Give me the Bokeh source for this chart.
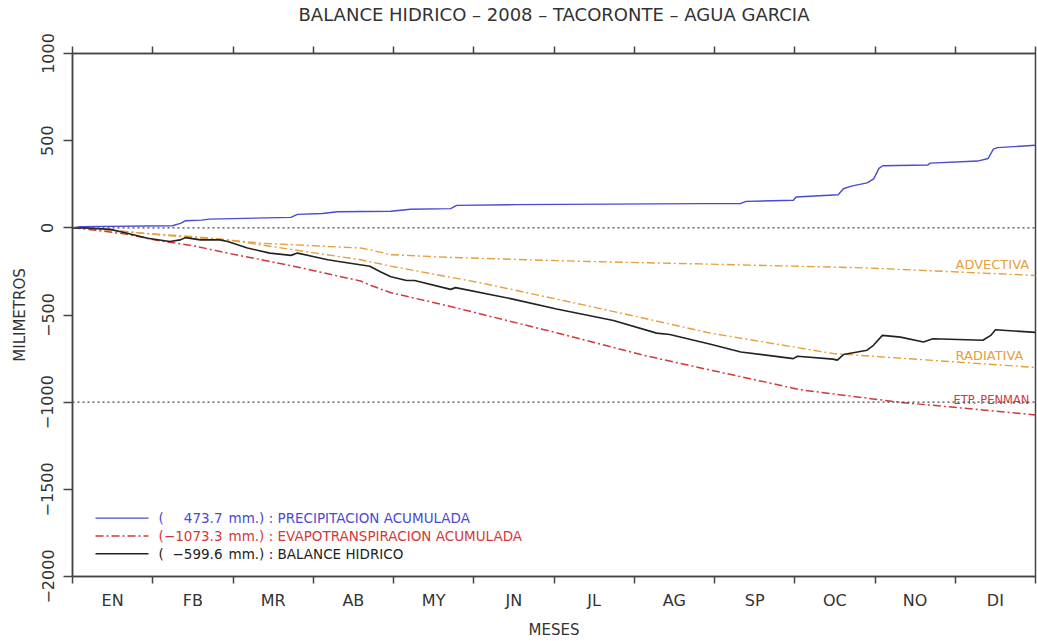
from bokeh.plotting import figure
from bokeh.models import Range1d, FixedTicker, LinearAxis, Span
from bokeh.core.properties import value
from bokeh.embed import file_html
from bokeh.resources import INLINE

# ---------------- data (day of year 0..366, mm) ----------------
title_text = "BALANCE HIDRICO \u2013 2008 \u2013 TACORONTE \u2013 AGUA GARCIA"
months = ["EN", "FB", "MR", "AB", "MY", "JN", "JL", "AG", "SP", "OC", "NO", "DI"]
y_ticks = [-2000, -1500, -1000, -500, 0, 500, 1000]
y_tick_labels = ["\u22122000", "\u22121500", "\u22121000", "\u2212500", "0", "500", "1000"]

precip_day = [0, 3, 38, 41, 43, 49, 52, 83, 85.5, 95, 100.6, 121, 128.5, 143.7, 146, 168,
              239, 254, 256, 274, 275, 291, 293, 296, 302, 304.5, 306.5, 308, 325, 326,
              344, 348, 350, 351.5, 366]
precip_mm = [0, 7, 12, 26, 41, 44, 50, 60, 77, 82, 92, 95, 107, 110, 129, 133,
             139, 140, 152, 158, 177, 190, 224, 239, 258, 281, 341, 356, 360, 371,
             383, 398, 451, 460, 473.7]

balance_day = [0, 3, 14.4, 20.8, 28.5, 37, 41, 43, 48.6, 56, 59, 66.5, 75, 83, 85.5, 97,
               100.6, 113, 117, 121, 127, 130, 143.7, 145.6, 166.5, 184, 205.6, 222, 227,
               242.5, 254, 274, 275.5, 289, 290.7, 293, 302, 304.4, 307.8, 314.7, 323.4,
               327, 346, 349, 350.8, 366]
balance_mm = [0, 1, -9, -31, -60, -78, -69, -56, -69, -69, -78, -116, -145, -158, -145, -183,
              -192, -220, -252, -281, -302, -302, -353, -343, -406, -466, -532, -604, -612,
              -668, -712, -750, -737, -753, -759, -727, -702, -674, -617, -627, -655,
              -636, -645, -617, -585, -599.6]

etp_day = [0, 8, 20.8, 33.4, 46, 59, 84, 109.5, 114, 121, 142.5, 180.5, 218.5, 242.5,
           276.7, 314.7, 366]
etp_mm = [0, -12, -37, -75, -103, -145, -220, -305, -334, -372, -447, -589, -736, -816,
          -929, -1001, -1073.3]

rad_day = [0, 8, 20.8, 33.4, 46, 59, 84, 109.5, 121, 155, 193, 218.5, 242.5, 289, 366]
rad_mm = [0, -5, -22, -41, -56, -69, -126, -183, -220, -315, -438, -523, -604, -721, -801]

adv_day = [0, 8, 27, 46, 71.5, 109.5, 113, 121, 142.5, 193, 238.7, 302, 366]
adv_mm = [0, -5, -31, -50, -88, -116, -126, -154, -169, -192, -207, -230, -273]

# ---------------- styling ----------------
BLUE = "#4a4ad2"
RED = "#d23a3a"
ORANGE = "#e4a03c"
BLACK = "#222222"
GREY = "#444444"
FONT = "DejaVu Sans"

W, H = 1037, 641
FL, FR, FT, FB = 72, 1035, 53, 582  # frame edges in pixels
X0, X1 = 0, 366
Y0, Y1 = -2000, 1000


def px_x(px):
    return X0 + (px - FL) / (FR - FL) * (X1 - X0)


def px_y(py):
    return Y1 - (py - FT) / (FB - FT) * (Y1 - Y0)


p = figure(width=W, height=H, output_backend="svg", toolbar_location=None,
           x_range=Range1d(X0, X1), y_range=Range1d(Y0, Y1),
           min_border_left=FL, min_border_right=W - FR, min_border_top=FT,
           min_border_bottom=H - FB, x_axis_location=None, y_axis_location=None)
p.grid.visible = False
p.background_fill_color = "white"
p.border_fill_color = "white"
p.outline_line_color = GREY
p.outline_line_width = 1.5

mlen = (X1 - X0) / len(months)
centers = [X0 + mlen * (i + 0.5) for i in range(len(months))]
bounds = [X0 + mlen * i for i in range(len(months) + 1)]
xt = FixedTicker(ticks=centers, minor_ticks=bounds)

xaxis = LinearAxis(ticker=xt, axis_label="MESES")
xaxis.major_label_overrides = {c: m for c, m in zip(centers, months)}
xaxis.major_tick_line_color = None
xaxis.major_tick_out = 7
xaxis.major_tick_in = 0
xaxis.minor_tick_out = 7
xaxis.minor_tick_in = 0
xaxis.minor_tick_line_color = GREY
xaxis.minor_tick_line_width = 1.5
xaxis.axis_line_color = GREY
xaxis.axis_line_width = 1.5
xaxis.major_label_text_font = FONT
xaxis.major_label_text_font_size = "16px"
xaxis.major_label_text_color = "#333333"
xaxis.major_label_standoff = 7
xaxis.axis_label_text_font = FONT
xaxis.axis_label_text_font_size = "15px"
xaxis.axis_label_text_font_style = "normal"
xaxis.axis_label_text_color = "#333333"
xaxis.axis_label_standoff = 8
p.add_layout(xaxis, "below")

# top axis: month-boundary ticks only; its axis label carries the chart title
top = LinearAxis(ticker=FixedTicker(ticks=[], minor_ticks=bounds), axis_label=title_text)
top.major_tick_line_color = None
top.major_tick_out = 0
top.major_tick_in = 0
top.minor_tick_out = 7
top.minor_tick_in = 0
top.minor_tick_line_color = GREY
top.minor_tick_line_width = 1.5
top.axis_line_color = GREY
top.axis_line_width = 1.5
top.major_label_standoff = 0
top.axis_label_text_font = FONT
top.axis_label_text_font_size = "18px"
top.axis_label_text_font_style = "normal"
top.axis_label_text_color = "#333333"
top.axis_label_standoff = 22
p.add_layout(top, "above")

yaxis = LinearAxis(ticker=FixedTicker(ticks=y_ticks, minor_ticks=[]), axis_label="MILIMETROS")
yaxis.major_label_overrides = {t: s for t, s in zip(y_ticks, y_tick_labels)}
yaxis.major_label_orientation = "vertical"
yaxis.major_tick_out = 9
yaxis.major_tick_in = 0
yaxis.major_tick_line_color = GREY
yaxis.major_tick_line_width = 1.5
yaxis.axis_line_color = GREY
yaxis.axis_line_width = 1.5
yaxis.major_label_text_font = FONT
yaxis.major_label_text_font_size = "16px"
yaxis.major_label_text_color = "#333333"
yaxis.major_label_standoff = 10
yaxis.axis_label_text_font = FONT
yaxis.axis_label_text_font_size = "15px"
yaxis.axis_label_text_font_style = "normal"
yaxis.axis_label_text_color = "#333333"
yaxis.axis_label_standoff = 10
p.add_layout(yaxis, "left")

for lvl in [0, -1000]:
    p.add_layout(Span(location=lvl, dimension="width", line_color=GREY,
                      line_dash="2 3", line_width=1.3))

DASHDOT = "8 3 2 3"
p.line(adv_day, adv_mm, line_color=ORANGE, line_width=1.4, line_dash=DASHDOT)
p.line(rad_day, rad_mm, line_color=ORANGE, line_width=1.4, line_dash=DASHDOT)
p.line(etp_day, etp_mm, line_color=RED, line_width=1.5, line_dash=DASHDOT)
p.line(balance_day, balance_mm, line_color=BLACK, line_width=1.6)
p.line(precip_day, precip_mm, line_color=BLUE, line_width=1.4)

# curve labels at right side
p.text(x=[px_x(955)] * 2, y=[px_y(266), px_y(358)], text=["ADVECTIVA", "RADIATIVA"],
       text_font=value(FONT), text_font_size="13px", text_color=ORANGE,
       text_baseline="middle", text_align="left")
p.text(x=[px_x(953)], y=[px_y(403)], text=["ETP. PENMAN"],
       text_font=value(FONT), text_font_size="11.5px", text_color=RED,
       text_baseline="middle", text_align="left")


# legend (custom, coloured text)
def fmt(v):
    return f"{v:.1f}".replace("-", "\u2212")


leg = [
    (BLUE, None, fmt(precip_mm[-1]), "PRECIPITACION ACUMULADA", 523),
    (RED, DASHDOT, fmt(etp_mm[-1]), "EVAPOTRANSPIRACION ACUMULADA", 541),
    (BLACK, None, fmt(balance_mm[-1]), "BALANCE HIDRICO", 559),
]
LFS = "13.5px"
for color, dash, num, name, py in leg:
    kw = dict(line_color=color, line_width=1.4 if color != BLACK else 1.6)
    if dash:
        kw["line_dash"] = dash
    p.line([px_x(95), px_x(148)], [px_y(py), px_y(py)], **kw)
    p.text(x=[px_x(158)], y=[px_y(py)], text=["("], text_font=value(FONT),
           text_font_size=LFS, text_color=color, text_baseline="middle", text_align="left")
    p.text(x=[px_x(222)], y=[px_y(py)], text=[num], text_font=value(FONT),
           text_font_size=LFS, text_color=color, text_baseline="middle", text_align="right")
    p.text(x=[px_x(228)], y=[px_y(py)], text=["mm.) : " + name], text_font=value(FONT),
           text_font_size=LFS, text_color=color, text_baseline="middle", text_align="left")

open("out.html", "w").write(file_html(p, INLINE))
